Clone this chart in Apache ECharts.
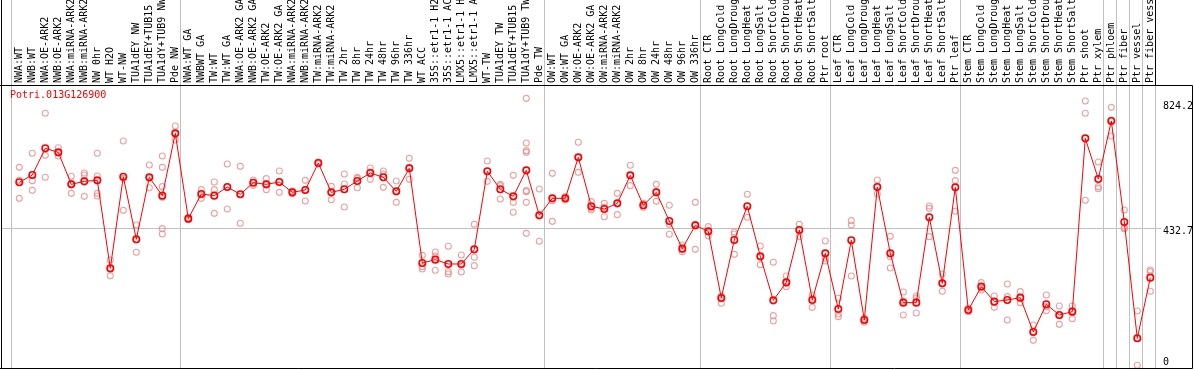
<!DOCTYPE html>
<html><head><meta charset="utf-8">
<script src="https://cdn.jsdelivr.net/npm/echarts@6/dist/echarts.min.js"></script>
<style>html,body{margin:0;padding:0;background:#fff}#c{width:1194px;height:370px}</style>
</head><body><div id="c"></div>
<script>
const geneName = 'Potri.013G126900';

const categories = [
  'NWA:WT','NWB:WT','NWA:OE-ARK2','NWB:OE-ARK2','NWA:miRNA-ARK2','NWB:miRNA-ARK2','NW 0hr','WT H2O','WT-NW','TUA1dEY NW','TUA1dEY+TUB15 NW','TUA1dY+TUB9 NW','Pde NW',
  'NWA:WT GA','NWBWT GA','TW:WT','TW:WT GA','NWA:OE-ARK2 GA','NWB:OE-ARK2 GA','TW:OE-ARK2','TW:OE-ARK2 GA','NWA:miRNA-ARK2 GA','NWB:miRNA-ARK2 GA','TW:miRNA-ARK2','TW:miRNA-ARK2 GA',
  'TW 2hr','TW 8hr','TW 24hr','TW 48hr','TW 96hr','TW 336hr','WT ACC','35S::etr1-1 H2O','35S::etr1-1 ACC','LMX5::etr1-1 H2O','LMX5::etr1-1 ACC','WT-TW','TUA1dEY TW','TUA1dEY+TUB15 TW','TUA1dY+TUB9 TW','Pde TW',
  'OW:WT','OW:WT GA','OW:OE-ARK2','OW:OE-ARK2 GA','OW:miRNA-ARK2','OW:miRNA-ARK2 GA','OW 2hr','OW 8hr','OW 24hr','OW 48hr','OW 96hr','OW 336hr',
  'Root CTR','Root LongCold','Root LongDrought','Root LongHeat','Root LongSalt','Root ShortCold','Root ShortDrought','Root ShortHeat','Root ShortSalt','Ptr root',
  'Leaf CTR','Leaf LongCold','Leaf LongDrought','Leaf LongHeat','Leaf LongSalt','Leaf ShortCold','Leaf ShortDrought','Leaf ShortHeat','Leaf ShortSalt','Ptr leaf',
  'Stem CTR','Stem LongCold','Stem LongDrought','Stem LongHeat','Stem LongSalt','Stem ShortCold','Stem ShortDrought','Stem ShortHeat','Stem ShortSalt',
  'Ptr shoot','Ptr xylem','Ptr phloem','Ptr fiber','Ptr vessel','Ptr fiber vessel'
];

// indices of categories that start a new group (separator lines)
const groupStarts = [0, 13, 41, 53, 63, 73, 84, 85, 86, 87];

const means = [
  576.0, 598.8, 682.0, 669.5, 569.7, 579.1, 582.2, 307.9, 593.6, 398.3,
  591.6, 534.4, 728.7, 462.7, 539.6, 534.4, 561.4, 538.6, 574.9, 569.7,
  577.0, 544.8, 552.1, 636.2, 544.8, 554.2, 580.1, 605.1, 591.6, 547.9,
  619.6, 324.5, 334.9, 321.4, 321.4, 367.1, 610.3, 554.2, 532.3, 613.4,
  473.1, 526.1, 526.1, 653.9, 501.2, 492.8, 510.5, 597.8, 504.3, 544.8,
  455.4, 369.2, 441.9, 423.2, 215.4, 396.2, 501.2, 345.3, 208.1, 264.2,
  427.4, 209.2, 354.6, 181.1, 395.2, 146.8, 561.4, 354.6, 200.9, 200.9,
  466.9, 261.1, 560.4, 178.0, 250.7, 204.0, 209.2, 216.4, 109.4, 195.7,
  162.4, 172.8, 713.1, 586.4, 767.2, 452.3, 89.7, 278.8
];

const replicates = [
  [622.7, 582.2, 526.1], [666.4, 581.2, 551.0], [791.1, 660.1, 591.6], [684.0, 668.5, 658.1],
  [594.7, 571.8, 541.7], [605.1, 598.8, 532.3], [666.4, 595.7, 541.7, 533.4], [333.9, 305.8, 285.0],
  [704.8, 588.4, 488.7], [443.0, 396.2, 357.8], [630.0, 588.4, 559.3],
  [658.1, 622.7, 562.5, 529.2, 431.5, 414.9], [751.6, 726.6, 707.9],
  [465.8, 462.7, 459.6], [553.1, 539.6, 526.1], [577.0, 553.1, 479.3], [633.1, 561.4, 492.8],
  [625.8, 538.6, 448.2], [583.2, 574.9, 566.6], [587.4, 569.7, 553.1], [611.3, 577.0, 544.8],
  [549.0, 544.8, 540.6], [582.2, 552.1, 517.8], [639.4, 633.1], [563.5, 544.8, 521.9],
  [601.9, 570.8, 499.1], [591.6, 588.4, 559.3], [620.7, 608.2, 585.3], [611.3, 601.9, 560.4],
  [580.1, 547.9, 513.6], [650.8, 622.7, 585.3], [348.4, 313.1, 305.8], [358.8, 346.3, 301.7],
  [376.5, 297.5, 290.2], [349.4, 318.3, 296.5], [445.0, 342.2, 316.2], [642.5, 610.3, 579.1],
  [569.7, 565.6, 524.0], [597.8, 513.6, 482.5],
  [837.8, 698.6, 674.7, 669.5, 550.0, 546.9, 513.6, 417.0], [555.2, 473.1, 392.1],
  [604.0, 518.8, 454.4], [531.3, 526.1, 520.9], [700.7, 653.9, 607.1], [515.7, 494.9, 489.7],
  [510.5, 498.0, 468.9], [541.7, 510.5, 475.2], [629.0, 597.8, 565.6], [510.5, 503.2, 498.0],
  [569.7, 546.9, 516.7], [504.3, 445.0, 413.9], [380.6, 367.1, 359.8], [513.6, 445.0, 367.1],
  [437.8, 423.2, 408.7], [221.6, 214.4, 198.8], [421.1, 414.9, 351.5], [538.6, 501.2, 466.9],
  [377.5, 344.2, 319.3], [326.6, 160.3, 143.7], [284.0, 261.1, 250.7], [445.0, 427.4, 406.6],
  [224.8, 214.4, 186.3], [393.1, 339.1, 330.7],
  [214.4, 165.5, 157.2], [456.5, 443.0, 284.0], [152.0, 146.8, 139.6], [583.2, 562.5, 539.6],
  [407.6, 344.2, 308.9], [234.1, 206.1, 162.4], [221.6, 214.4, 168.6], [502.2, 494.9, 406.6],
  [290.2, 261.1, 236.2], [613.4, 581.2, 485.6],
  [183.2, 178.0, 172.8], [263.2, 250.7, 240.4], [221.6, 204.0, 186.3], [259.0, 219.6, 146.8],
  [235.2, 214.4, 200.9], [131.2, 110.5, 83.4], [224.8, 188.4, 175.9], [190.5, 160.3, 133.3],
  [190.5, 174.9, 151.0],
  [829.5, 791.1, 519.9], [639.4, 562.5, 556.2], [809.8, 770.3, 720.4], [489.7, 434.7, 431.5],
  [174.9, 89.7, 5.5], [302.7, 297.5, 236.2]
];

const yTickLabels = [0, 432.7, 824.2];
const refLineValue = 432.7;
const yMin = -4.4, yMax = 879.4;

const MONO = '"DejaVu Sans Mono", "Liberation Mono", monospace';

const repPoints = [];
replicates.forEach((arr, i) => arr.forEach(v => repPoints.push([i, v])));

const chart = echarts.init(document.getElementById('c'), null, {renderer: 'canvas'});

const option = {
  animation: false,
  backgroundColor: '#ffffff',
  title: {
    text: geneName, left: 10, top: 90, padding: 0,
    textStyle: {color: '#ff0000', fontSize: 10, fontWeight: 'normal', fontFamily: MONO}
  },
  grid: [
    {left: 12.8, right: 37.2, top: 85, bottom: 1.5, containLabel: false, outerBoundsMode: 'none'},
    {left: 11, right: 39, top: 0, bottom: 1.5, containLabel: false, outerBoundsMode: 'none'},
    {left: 13.4, right: 36.6, top: 85, bottom: 1.5, containLabel: false, outerBoundsMode: 'none'}
  ],
  xAxis: [
    {
      type: 'category', gridIndex: 0, data: categories, boundaryGap: true,
      axisLine: {show: false}, axisTick: {show: false}, splitLine: {show: false}, axisLabel: {show: false}
    },
    {
      type: 'category', gridIndex: 1, data: categories, boundaryGap: true,
      axisLine: {show: false}, axisTick: {show: false}, axisLabel: {show: false},
      splitLine: {show: true, interval: (idx) => groupStarts.indexOf(idx) >= 0,
        lineStyle: {color: '#c0c0c0', width: 1}}
    },
    {
      type: 'category', gridIndex: 2, data: categories, position: 'top', boundaryGap: true,
      axisLine: {show: false}, axisTick: {show: false}, splitLine: {show: false},
      axisLabel: {interval: 0, rotate: 90, margin: 2, fontSize: 10, fontFamily: MONO, color: '#000', hideOverlap: false}
    }
  ],
  yAxis: [
    {type: 'value', gridIndex: 0, min: yMin, max: yMax, show: false, splitLine: {show: false}},
    {type: 'value', gridIndex: 1, show: false, splitLine: {show: false}},
    {type: 'value', gridIndex: 2, show: false, splitLine: {show: false}}
  ],
  series: [
    {
      type: 'scatter', xAxisIndex: 0, yAxisIndex: 0, data: repPoints,
      symbol: 'circle', symbolSize: 6, z: 2, silent: true,
      itemStyle: {color: 'rgba(0,0,0,0)', borderColor: '#e88a8a', borderWidth: 1.1}
    },
    {
      type: 'line', xAxisIndex: 0, yAxisIndex: 0, data: means,
      symbol: 'circle', symbolSize: 6.5, showAllSymbol: true, z: 3, silent: true,
      lineStyle: {color: '#ff0000', width: 1},
      itemStyle: {color: 'rgba(0,0,0,0)', borderColor: '#ff0000', borderWidth: 1.6}
    }
  ]
};
chart.setOption(option);

const py = v => chart.convertToPixel({yAxisIndex: 0}, v);
const crisp = y => Math.round(y) + 0.5;
const frameBottom = 368.5, frameTop = 85.5, frameRight = 1192.5, headerRight = 1155.5, frameLeft = 1.5;
const g = [];
g.push({type: 'line', z: 0, shape: {x1: 1, y1: crisp(py(refLineValue)), x2: 1161, y2: crisp(py(refLineValue))}, style: {stroke: '#c0c0c0', lineWidth: 1}});
g.push({type: 'line', z: 0, shape: {x1: headerRight, y1: frameTop, x2: headerRight, y2: frameBottom}, style: {stroke: '#c0c0c0', lineWidth: 1}});
g.push({type: 'line', z: 10, shape: {x1: headerRight, y1: 0, x2: headerRight, y2: frameTop}, style: {stroke: '#000', lineWidth: 1}});
g.push({type: 'line', z: 10, shape: {x1: 0, y1: frameTop, x2: frameRight, y2: frameTop}, style: {stroke: '#000', lineWidth: 1}});
g.push({type: 'line', z: 10, shape: {x1: 0, y1: frameBottom, x2: frameRight, y2: frameBottom}, style: {stroke: '#000', lineWidth: 1}});
g.push({type: 'line', z: 10, shape: {x1: frameLeft, y1: 0, x2: frameLeft, y2: frameBottom}, style: {stroke: '#000', lineWidth: 1}});
g.push({type: 'line', z: 10, shape: {x1: frameRight, y1: frameTop, x2: frameRight, y2: frameBottom}, style: {stroke: '#000', lineWidth: 1}});
yTickLabels.forEach(v => {
  const y = Math.min(py(v) + 3.4, 362.3);
  g.push({type: 'text', z: 10, x: 1163, y: y,
    style: {text: String(v), font: '10px ' + MONO, fill: '#000', textAlign: 'left', textVerticalAlign: 'middle', verticalAlign: 'middle'}});
});
chart.setOption({graphic: g});
</script>
</body></html>
